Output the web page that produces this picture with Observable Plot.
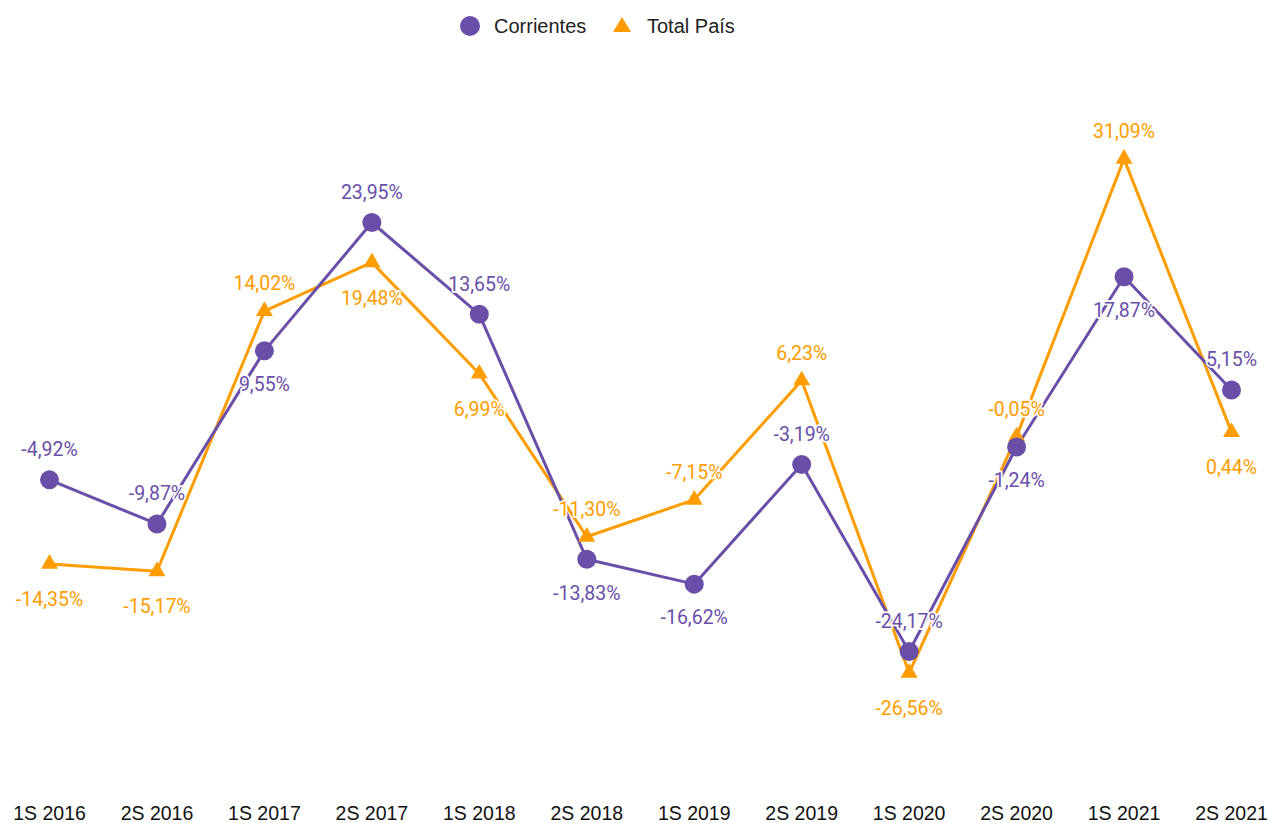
<!DOCTYPE html>
<html>
<head>
<meta charset="utf-8">
<script src="https://cdn.jsdelivr.net/npm/d3@7"></script>
<script src="https://cdn.jsdelivr.net/npm/@observablehq/plot@0.6"></script>
<style>
body { margin: 0; background: #fff; overflow: hidden; }
#legend { position: relative; height: 50px; width: 1270px; font-family: "Liberation Sans", Arial, sans-serif; font-size: 20px; color: #222; }
#legend .item { position: absolute; top: 15px; line-height: 22px; }
#chart svg { display: block; }
</style>
</head>
<body>
<div id="legend"></div>
<div id="chart"></div>
<script>
const periods = ["1S 2016","2S 2016","1S 2017","2S 2017","1S 2018","2S 2018","1S 2019","2S 2019","1S 2020","2S 2020","1S 2021","2S 2021"];
const corrientes = [-4.92, -9.87, 9.55, 23.95, 13.65, -13.83, -16.62, -3.19, -24.17, -1.24, 17.87, 5.15];
const totalPais = [-14.35, -15.17, 14.02, 19.48, 6.99, -11.30, -7.15, 6.23, -26.56, -0.05, 31.09, 0.44];
const seriesNames = ["Corrientes", "Total País"];
const colors = ["#6a4fa9", "#ff9d00"];
// which side of its point each value label sits on (as in the original)
const labelSideC = ["above","above","below","above","above","below","below","above","above","below","below","above"];
const labelSideT = ["below","below","above","below","below","above","above","above","below","above","above","below"];

const fmt = v => v.toFixed(2).replace(".", ",") + "%";

const rowsC = periods.map((p, i) => ({period: p, value: corrientes[i], side: labelSideC[i]}));
const rowsT = periods.map((p, i) => ({period: p, value: totalPais[i], side: labelSideT[i]}));

// legend
const legend = document.getElementById("legend");
legend.innerHTML = `
  <svg style="position:absolute;left:459px;top:15px" width="22" height="22"><circle cx="11" cy="11" r="10" fill="${colors[0]}"/></svg>
  <span class="item" style="left:494px">${seriesNames[0]}</span>
  <svg style="position:absolute;left:612px;top:15px" width="20" height="20"><path d="M10,2 L19,17 L1,17 Z" fill="${colors[1]}"/></svg>
  <span class="item" style="left:647px">${seriesNames[1]}</span>`;

const labelFont = {fontFamily: "Roboto, sans-serif", fontSize: 19.5, stroke: "white", strokeWidth: 3.5};

const chart = Plot.plot({
  width: 1270,
  height: 773,
  marginTop: 73.5,
  marginBottom: 75.5,
  marginLeft: 49,
  marginRight: 39,
  x: {type: "point", domain: periods, padding: 0, round: false},
  y: {domain: [-35, 35], axis: null},
  marks: [
    Plot.axisX({tickSize: 0, tickPadding: 58, fontSize: 19.5, fontFamily: "Liberation Sans, Arial, sans-serif", fill: "#111", label: null}),
    Plot.line(rowsT, {x: "period", y: "value", stroke: colors[1], strokeWidth: 3}),
    Plot.line(rowsC, {x: "period", y: "value", stroke: colors[0], strokeWidth: 3}),
    Plot.dot(rowsT, {x: "period", y: "value", symbol: "triangle", r: 6.3, fill: colors[1], stroke: "none"}),
    Plot.dot(rowsC, {x: "period", y: "value", symbol: "circle", r: 9.5, fill: colors[0], stroke: "none"}),
    Plot.text(rowsC.filter(d => d.side === "above"), {x: "period", y: "value", text: d => fmt(d.value), dy: -30, fill: colors[0], ...labelFont}),
    Plot.text(rowsC.filter(d => d.side === "below"), {x: "period", y: "value", text: d => fmt(d.value), dy: 34, fill: colors[0], ...labelFont}),
    Plot.text(rowsT.filter(d => d.side === "above"), {x: "period", y: "value", text: d => fmt(d.value), dy: -27, fill: colors[1], ...labelFont}),
    Plot.text(rowsT.filter(d => d.side === "below"), {x: "period", y: "value", text: d => fmt(d.value), dy: 36, fill: colors[1], ...labelFont})
  ]
});
document.getElementById("chart").appendChild(chart);
</script>
</body>
</html>
